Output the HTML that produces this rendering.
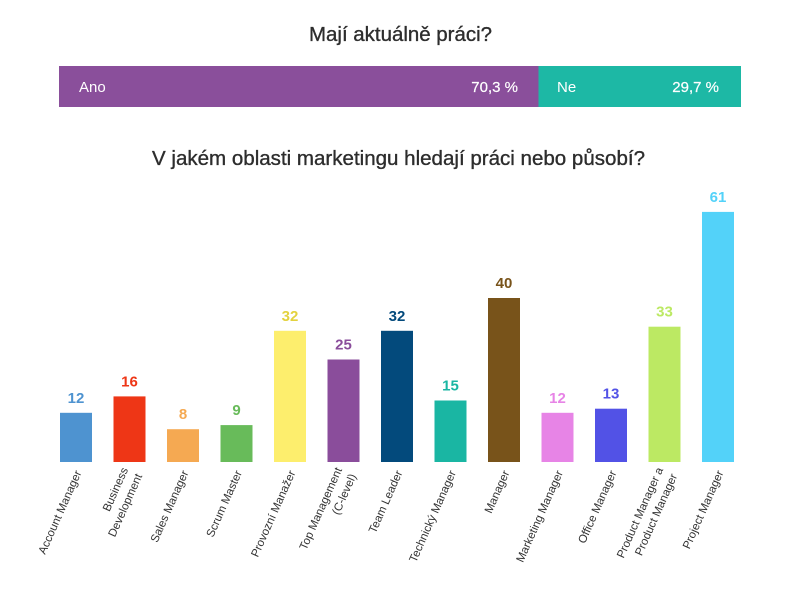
<!DOCTYPE html>
<html>
<head>
<meta charset="utf-8">
<style>
  html,body{margin:0;padding:0;background:#fff;}
  svg{display:block;}
  text{font-family:"Liberation Sans","DejaVu Sans",sans-serif;}
</style>
</head>
<body>
<svg width="800" height="596" viewBox="0 0 800 596" xmlns="http://www.w3.org/2000/svg">
  <rect width="800" height="596" fill="#fff"/>

  <!-- Title 1 -->
  <text x="309" y="41" font-size="20" fill="#2d2d2d" stroke="#2d2d2d" stroke-width="0.35" textLength="183" lengthAdjust="spacingAndGlyphs">Mají aktuálně práci?</text>

  <!-- Stacked bar -->
  <rect x="59" y="66" width="480" height="41" fill="#8a4f9b"/>
  <rect x="538.5" y="66" width="202.5" height="41" fill="#1db8a5"/>
  <text x="79" y="92" font-size="15" fill="#fff">Ano</text>
  <text x="518" y="92" font-size="15" fill="#fff" text-anchor="end" stroke="#fff" stroke-width="0.2">70,3 %</text>
  <text x="557" y="92" font-size="15" fill="#fff">Ne</text>
  <text x="719" y="92" font-size="15" fill="#fff" text-anchor="end" stroke="#fff" stroke-width="0.2">29,7 %</text>

  <!-- Title 2 -->
  <text x="152" y="165" font-size="20" fill="#2d2d2d" stroke="#2d2d2d" stroke-width="0.35" textLength="493" lengthAdjust="spacingAndGlyphs">V jakém oblasti marketingu hledají práci nebo působí?</text>

  <!-- Bars -->
  <g>
    <rect x="60" y="412.8" width="32" height="49.2" fill="#4e93d0"/>
    <rect x="113.5" y="396.4" width="32" height="65.6" fill="#ee3616"/>
    <rect x="167" y="429.2" width="32" height="32.8" fill="#f5a952"/>
    <rect x="220.5" y="425.1" width="32" height="36.9" fill="#68bb5a"/>
    <rect x="274" y="330.8" width="32" height="131.2" fill="#fdee6d"/>
    <rect x="327.5" y="359.5" width="32" height="102.5" fill="#8a4d9b"/>
    <rect x="381" y="330.8" width="32" height="131.2" fill="#034a7c"/>
    <rect x="434.5" y="400.5" width="32" height="61.5" fill="#1ab6a3"/>
    <rect x="488" y="298" width="32" height="164" fill="#78531a"/>
    <rect x="541.5" y="412.8" width="32" height="49.2" fill="#e784e6"/>
    <rect x="595" y="408.7" width="32" height="53.3" fill="#5252e6"/>
    <rect x="648.5" y="326.7" width="32" height="135.3" fill="#bce963"/>
    <rect x="702" y="211.9" width="32" height="250.1" fill="#53d2f9"/>
  </g>

  <!-- Value labels -->
  <g font-size="15" font-weight="bold" text-anchor="middle">
    <text x="76" y="402.8" fill="#4e93d0">12</text>
    <text x="129.5" y="386.4" fill="#ee3616">16</text>
    <text x="183" y="419.2" fill="#f5a952">8</text>
    <text x="236.5" y="415.1" fill="#68bb5a">9</text>
    <text x="290" y="320.8" fill="#e3d23f">32</text>
    <text x="343.5" y="349.5" fill="#8a4d9b">25</text>
    <text x="397" y="320.8" fill="#034a7c">32</text>
    <text x="450.5" y="390.5" fill="#1ab6a3">15</text>
    <text x="504" y="288" fill="#78531a">40</text>
    <text x="557.5" y="402.8" fill="#e784e6">12</text>
    <text x="611" y="398.7" fill="#5252e6">13</text>
    <text x="664.5" y="316.7" fill="#bce963">33</text>
    <text x="718" y="201.9" fill="#53d2f9">61</text>
  </g>

  <!-- Category labels -->
  <g font-size="11.5" fill="#333" text-anchor="end">
    <text transform="translate(78,471) rotate(-66)" dy="4">Account Manager</text>
    <text transform="translate(131.5,471) rotate(-66)"><tspan x="0" dy="-3.5">Business</tspan><tspan x="0" dy="15.5">Development</tspan></text>
    <text transform="translate(185,471) rotate(-66)" dy="4">Sales Manager</text>
    <text transform="translate(238.5,471) rotate(-66)" dy="4">Scrum Master</text>
    <text transform="translate(292,471) rotate(-66)" dy="4">Provozní Manažer</text>
    <text transform="translate(345.5,471) rotate(-66)"><tspan x="0" dy="-3.5">Top Management</tspan><tspan x="0" dy="15.5">(C-level)</tspan></text>
    <text transform="translate(399,471) rotate(-66)" dy="4">Team Leader</text>
    <text transform="translate(452.5,471) rotate(-66)" dy="4">Technický Manager</text>
    <text transform="translate(506,471) rotate(-66)" dy="4">Manager</text>
    <text transform="translate(559.5,471) rotate(-66)" dy="4">Marketing Manager</text>
    <text transform="translate(613,471) rotate(-66)" dy="4">Office Manager</text>
    <text transform="translate(666.5,471) rotate(-66)"><tspan x="0" dy="-3.5">Product Manager a</tspan><tspan x="0" dy="15.5">Product Manager</tspan></text>
    <text transform="translate(720,471) rotate(-66)" dy="4">Project Manager</text>
  </g>
</svg>
</body>
</html>
